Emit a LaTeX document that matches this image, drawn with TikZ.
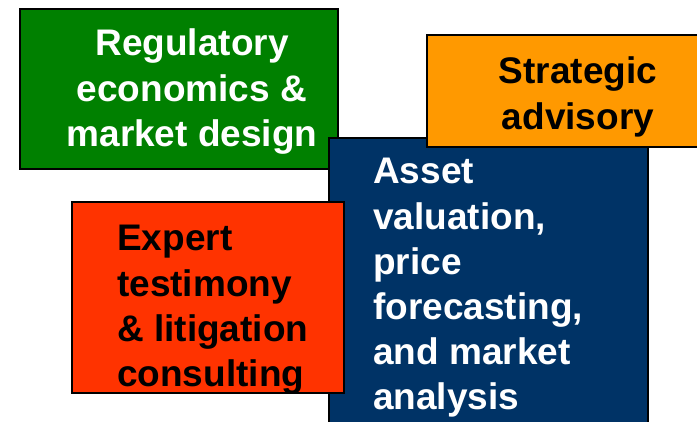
\documentclass[tikz,border=0pt]{standalone}
\usepackage{fontspec}
\setmainfont{Liberation Sans}
\begin{document}
\begin{tikzpicture}[x=1pt,y=-1pt,
  panel/.style={draw=black, line width=2pt, anchor=north west, inner sep=0pt, outer sep=0pt},
  caption/.style={inner sep=0pt, anchor=base, font=\fontsize{37}{45.2}\selectfont\bfseries},
]
\definecolor{greenpanel}{RGB}{0,128,0}
\definecolor{orangepanel}{RGB}{255,153,0}
\definecolor{navypanel}{RGB}{0,51,102}
\definecolor{redpanel}{RGB}{255,51,0}
\useasboundingbox (0,0) rectangle (697,422);
\clip (0,0) rectangle (697,422);

% service panels, back to front
\node[panel, fill=greenpanel, minimum width=318, minimum height=160] (reg) at (20,9) {};
\node[panel, fill=navypanel, minimum width=319, minimum height=300] (asset) at (329,138) {};
\node[panel, fill=orangepanel, minimum width=290, minimum height=112] (strat) at (427,35) {};
\node[panel, fill=redpanel, minimum width=272, minimum height=191] (expert) at (72,202) {};

% panel captions
\node[caption, text=white] (regtxt) at (192,56)
  {\begin{tabular}[t]{@{}c@{}}Regulatory\\economics \&\\market design\end{tabular}};
\node[caption, text=black] (strattxt) at (578,84)
  {\begin{tabular}[t]{@{}c@{}}Strategic\\advisory\end{tabular}};
\node[caption, text=white, anchor=base west] (assettxt) at (373,184)
  {\begin{tabular}[t]{@{}l@{}}Asset\\valuation,\\price\\forecasting,\\and market\\analysis\end{tabular}};
\node[caption, text=black, anchor=base west] (experttxt) at (117,251)
  {\begin{tabular}[t]{@{}l@{}}Expert\\testimony\\\& litigation\\consulting\end{tabular}};
\end{tikzpicture}
\end{document}
